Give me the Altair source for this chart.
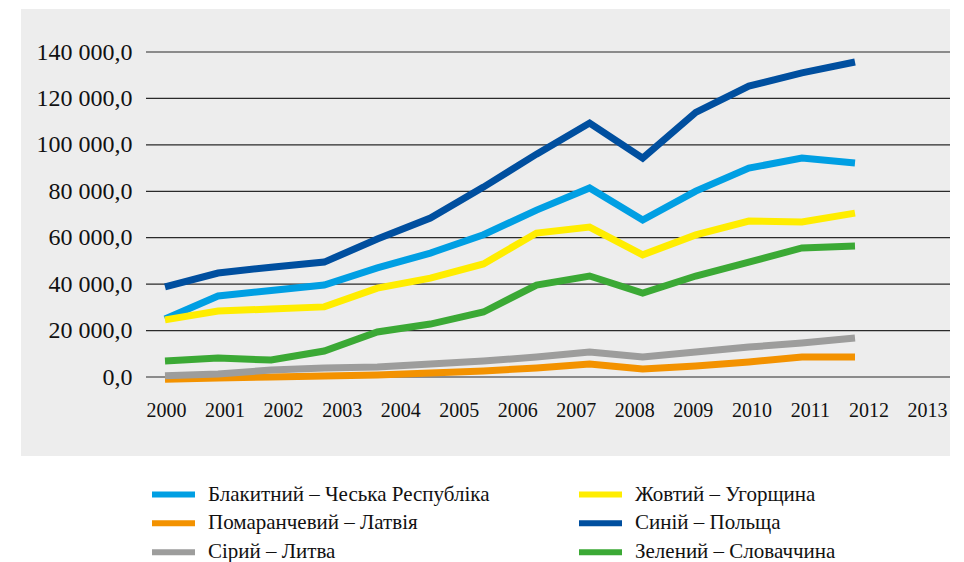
import altair as alt
import pandas as pd

# Years of the data points and the years printed along the x axis
years = list(range(2000, 2014))
tick_years = list(range(2000, 2014))
grid_values = [0, 20000, 40000, 60000, 80000, 100000, 120000, 140000]

# Series values, one per year
czech = [25000, 34900, 37300, 39600, 47000, 53400, 61300, 71900, 81400, 67600, 80100, 90000, 94300, 92200]
hungary = [24600, 28400, 29300, 30200, 38300, 42600, 48700, 62000, 64600, 52600, 61200, 67200, 66800, 70600]
latvia = [-1000, -400, 0, 400, 900, 1700, 2600, 3900, 5600, 3400, 4700, 6500, 8600, 8600]
poland = [38800, 44800, 47300, 49500, 59400, 68500, 81800, 96000, 109400, 94300, 114000, 125300, 131000, 135700]
lithuania = [500, 1300, 3000, 3900, 4300, 5600, 6900, 8600, 10800, 8600, 10800, 12900, 14600, 16800]
slovakia = [6900, 8200, 7300, 11200, 19400, 22800, 28000, 39600, 43500, 36200, 43500, 49500, 55600, 56400]

# Legend order (filled column by column)
names = [
    "Блакитний – Чеська Республіка",
    "Помаранчевий – Латвія",
    "Сірий – Литва",
    "Жовтий – Угорщина",
    "Синій – Польща",
    "Зелений – Словаччина",
]
colors = ["#009FE3", "#F39200", "#9D9D9C", "#FFED00", "#004F9F", "#3BA935"]
series_values = [czech, latvia, lithuania, hungary, poland, slovakia]

# Bottom-to-top drawing order of the lines
draw_order = [1, 2, 5, 0, 3, 4]

rows = []
for name, vals in zip(names, series_values):
    for yr, v in zip(years, vals):
        rows.append({"series": name, "year": yr, "value": v})
data = pd.DataFrame(rows)

FONT = "Liberation Serif"

y_scale = alt.Scale(domain=[0, 140000], nice=False, zero=False)
y_axis = alt.Axis(
    values=grid_values,
    labelExpr="replace(replace(format(datum.value, ',.1f'), ',', ' '), '.', ',')",
    labelFont=FONT,
    labelFontSize=24,
    labelColor="#111111",
    labelPadding=14,
    labelFlush=False,
    labelOverlap=False,
    ticks=False,
    domain=False,
    grid=False,
    title=None,
    zindex=1,
)
color_scale = alt.Scale(domain=names, range=colors)
legend = alt.Legend(
    orient="none",
    legendX=3,
    legendY=428,
    columns=2,
    columnPadding=86,
    rowPadding=0,
    clipHeight=28.5,
    symbolType="stroke",
    symbolStrokeWidth=6,
    symbolSize=1849,
    labelFont=FONT,
    labelFontSize=21,
    labelColor="#111111",
    labelOffset=10,
    labelLimit=500,
)

# Grey panel behind the plot
panel = alt.Chart(pd.DataFrame({"k": [0]})).mark_rect(color="#EDEDED").encode(
    x=alt.value(-125), x2=alt.value(804), y=alt.value(-43), y2=alt.value(404)
)

# Horizontal gridlines
grid = alt.Chart(pd.DataFrame({"v": grid_values})).mark_rule(
    color="#2a2a2a", strokeWidth=1.2
).encode(y=alt.Y("v:Q", scale=y_scale, axis=y_axis))

line_x_scale = alt.Scale(domain=[1999.642, 2014.790], nice=False, zero=False)

lines = []
for i in draw_order:
    lines.append(
        alt.Chart(data)
        .transform_filter(alt.datum.series == names[i])
        .mark_line(strokeWidth=7, strokeCap="butt", strokeJoin="miter")
        .encode(
            x=alt.X("year:Q", scale=line_x_scale, axis=None),
            y=alt.Y("value:Q", scale=y_scale, axis=y_axis),
            color=alt.Color("series:N", scale=color_scale, legend=legend, title=None),
        )
    )

# Year labels along the bottom
year_axis = alt.Chart(pd.DataFrame({"yr": tick_years})).mark_point(opacity=0).encode(
    x=alt.X(
        "yr:Q",
        scale=alt.Scale(domain=[1999.658, 2013.393], nice=False, zero=False),
        axis=alt.Axis(
            values=tick_years,
            format="d",
            labelFont=FONT,
            labelFontSize=20,
            labelColor="#111111",
            labelPadding=23,
            labelFlush=False,
            labelOverlap=False,
            ticks=False,
            domain=False,
            grid=False,
            title=None,
            zindex=1,
        ),
    ),
    y=alt.value(0),
)

chart = (
    alt.layer(panel, grid, *lines, year_axis)
    .resolve_scale(x="independent")
    .properties(
        width=804,
        height=325,
        autosize=alt.AutoSizeParams(type="none"),
        padding={"left": 146, "top": 52, "right": 14, "bottom": 185},
        background="white",
    )
    .configure_view(stroke=None)
)

chart.save("out.html", embed_options={"renderer": "svg", "actions": False})
